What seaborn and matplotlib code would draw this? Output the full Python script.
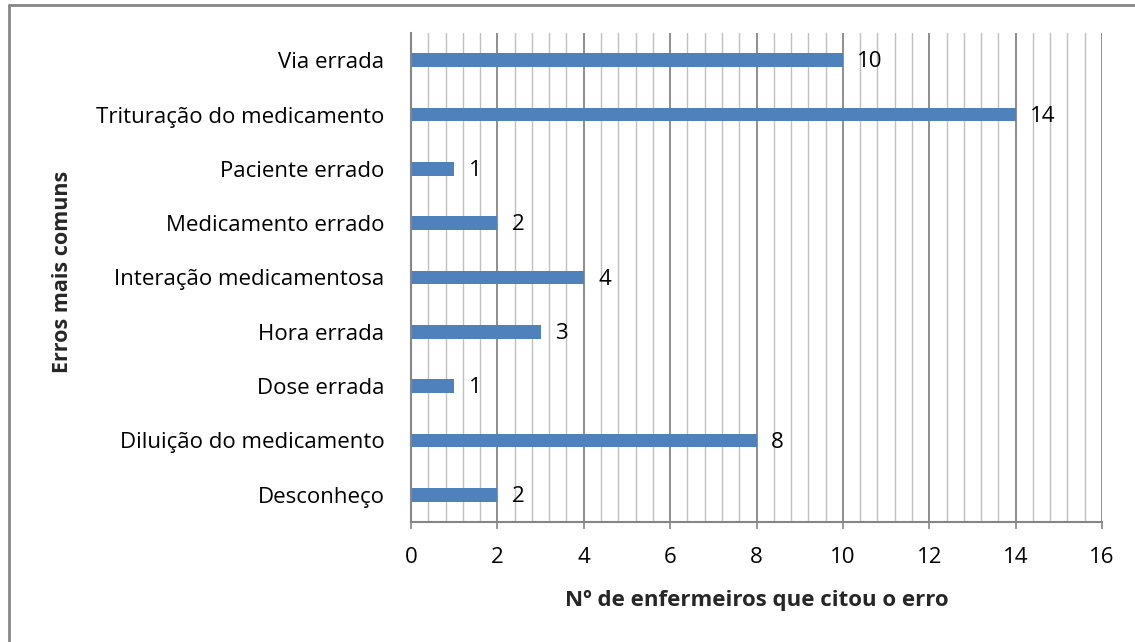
import matplotlib
matplotlib.use("Agg")
import matplotlib.pyplot as plt
from matplotlib.ticker import MultipleLocator
from matplotlib.lines import Line2D
import seaborn as sns
import pandas as pd

categories = ["Via errada", "Trituração do medicamento", "Paciente errado",
              "Medicamento errado", "Interação medicamentosa", "Hora errada",
              "Dose errada", "Diluição do medicamento", "Desconheço"]
values = [10, 14, 1, 2, 4, 3, 1, 8, 2]
x_ticks = [0, 2, 4, 6, 8, 10, 12, 14, 16]

df = pd.DataFrame({"cat": categories, "val": values})

sns.set_theme(style="white")
plt.rcParams['font.family'] = ['Open Sans', 'DejaVu Sans']

fig = plt.figure(figsize=(11.35, 6.42), dpi=100)
ax = fig.add_axes([411/1135, 1 - 522/642, 691/1135, 489/642])

sns.barplot(data=df, x="val", y="cat", order=categories, color="#4F81BD",
            orient="h", width=0.25, saturation=1, linewidth=0, ax=ax)

ax.set_xlim(0, 16)
ax.set_xticks(x_ticks)
ax.xaxis.set_minor_locator(MultipleLocator(0.4))
ax.grid(which="major", axis="x", color="#868686", linewidth=1.3)
ax.grid(which="minor", axis="x", color="#BFBFBF", linewidth=1.0)
ax.grid(False, axis="y")
ax.set_axisbelow(True)

for s in ["top", "right"]:
    ax.spines[s].set_visible(False)
for s in ["left", "bottom"]:
    ax.spines[s].set_color("#868686")
    ax.spines[s].set_linewidth(1.5)

ax.tick_params(axis="x", which="major", bottom=True, length=5, width=1.2,
               color="#868686", pad=13, labelsize=16, labelcolor="black")
ax.tick_params(axis="x", which="minor", bottom=False)
ax.tick_params(axis="y", left=False, pad=13, labelsize=16, labelcolor="black")

for i, v in enumerate(values):
    ax.text(v + 0.33, i + 0.03, str(v), va="center", ha="left", fontsize=16, color="black")

ax.set_xlabel("Nº de enfermeiros que citou o erro", fontsize=16, fontweight="bold", labelpad=16)
ax.set_ylabel("")
fig.text(62/1135, 1 - 272/642, "Erros mais comuns", rotation=90, fontsize=15.5,
         fontweight="bold", ha="center", va="center")

fig.add_artist(Line2D([9/1135, 1.0], [1 - 5/642, 1 - 5/642], transform=fig.transFigure,
                      color="#868686", linewidth=2))
fig.add_artist(Line2D([9/1135, 9/1135], [1 - 5/642, 0], transform=fig.transFigure,
                      color="#868686", linewidth=2))

fig.savefig("out.png", dpi=100, facecolor="white")
